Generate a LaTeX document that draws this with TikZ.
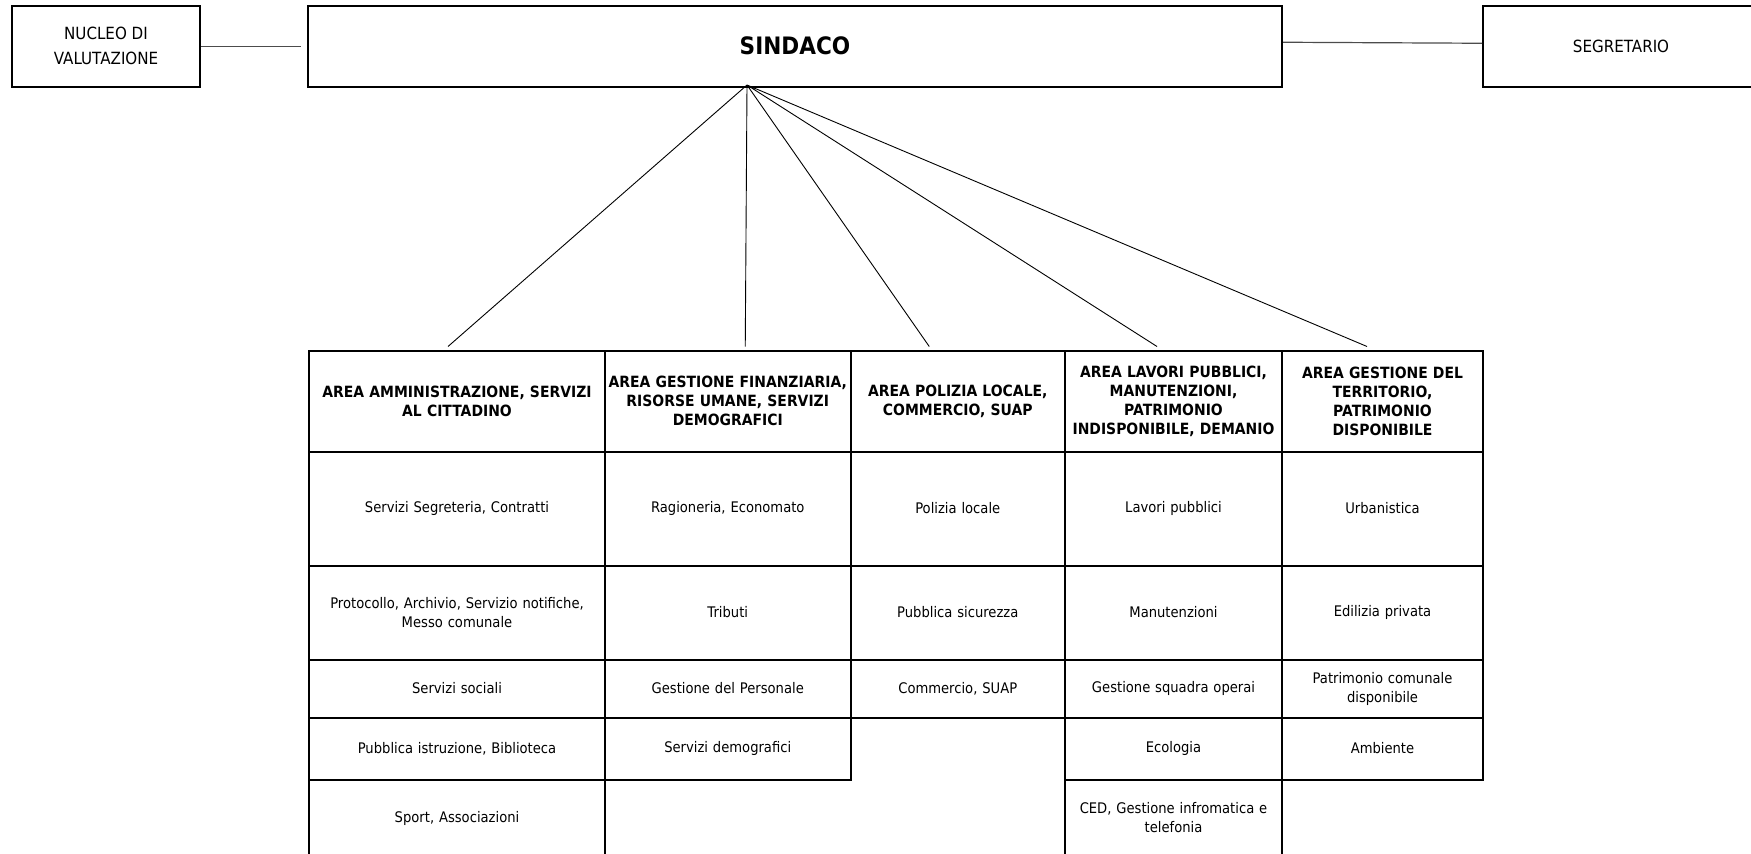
\documentclass[tikz,border=0pt]{standalone}
\usepackage{fontspec}
\setmainfont{DejaVu Sans}[FakeStretch=0.9]
\newcommand{\headfont}{\fontsize{15.5}{19}\selectfont\bfseries}
\newcommand{\cellfont}{\fontsize{14.6}{19}\selectfont}
\newcommand{\sidefont}{\fontsize{16.8}{25}\selectfont}
\newcommand{\chieffont}{\fontsize{24}{27}\selectfont\bfseries}
\newcommand{\heighthead}{101pt}
\tikzset{
    common/.style={anchor=north west, draw, rectangle, line width=2pt, inner sep=2pt, align=center},
    head/.style={common, font=\headfont, minimum height=\heighthead},
    cell/.style={common, font=\cellfont},
    box/.style={common, font=\sidefont, minimum height=81.5pt},
    colA/.style={minimum width=296pt, text width=290pt},
    colB/.style={minimum width=245.5pt, text width=240pt},
    colC/.style={minimum width=214.5pt, text width=209pt},
    colD/.style={minimum width=217pt, text width=212pt},
    colE/.style={minimum width=201pt, text width=196pt},
    side/.style={line width=1.2pt, black!70},
    fanline/.style={line width=0.9pt}
}
\begin{document}
\begin{tikzpicture}[x=1pt, y=-1pt]
    \useasboundingbox (0,0) rectangle (1751,854);

    % top row
    \node[box, minimum width=188pt] (nucleo) at (11,4.5) {NUCLEO DI\\VALUTAZIONE};
    \node[box, minimum width=974pt, font=\chieffont] (sindaco) at (307,4.5) {SINDACO};
    \node[box, minimum width=276pt] (segretario) at (1482,4.5) {SEGRETARIO};

    \draw[side] (nucleo.east) -- ([xshift=-6pt]sindaco.west);
    \draw[side] ([yshift=4pt]sindaco.east) -- ([yshift=3pt]segretario.west);

    % areas
    \path (308,349.5)
        node[head, colA] (A0) {AREA AMMINISTRAZIONE, SERVIZI\\AL CITTADINO}
        ++(0,101) node[cell, colA, minimum height=114pt] (A1) {Servizi Segreteria, Contratti}
        ++(0,114) node[cell, colA, minimum height=94pt] (A2) {Protocollo, Archivio, Servizio notifiche,\\Messo comunale}
        ++(0,94) node[cell, colA, minimum height=58pt] (A3) {Servizi sociali}
        ++(0,58) node[cell, colA, minimum height=62pt] (A4) {Pubblica istruzione, Biblioteca}
        ++(0,62) node[cell, colA, minimum height=77pt] (A5) {Sport, Associazioni};

    \path (604,349.5)
        node[head, colB] (B0) {AREA GESTIONE FINANZIARIA,\\RISORSE UMANE, SERVIZI\\DEMOGRAFICI}
        ++(0,101) node[cell, colB, minimum height=114pt] (B1) {Ragioneria, Economato}
        ++(0,114) node[cell, colB, minimum height=94pt] (B2) {Tributi}
        ++(0,94) node[cell, colB, minimum height=58pt] (B3) {Gestione del Personale}
        ++(0,58) node[cell, colB, minimum height=62pt] (B4) {Servizi demografici};

    \path (849.5,349.5)
        node[head, colC] (C0) {AREA POLIZIA LOCALE,\\COMMERCIO, SUAP}
        ++(0,101) node[cell, colC, minimum height=114pt] (C1) {Polizia locale}
        ++(0,114) node[cell, colC, minimum height=94pt] (C2) {Pubblica sicurezza}
        ++(0,94) node[cell, colC, minimum height=58pt] (C3) {Commercio, SUAP};

    \path (1064,349.5)
        node[head, colD] (D0) {AREA LAVORI PUBBLICI,\\MANUTENZIONI,\\PATRIMONIO\\INDISPONIBILE, DEMANIO}
        ++(0,101) node[cell, colD, minimum height=114pt] (D1) {Lavori pubblici}
        ++(0,114) node[cell, colD, minimum height=94pt] (D2) {Manutenzioni}
        ++(0,94) node[cell, colD, minimum height=58pt] (D3) {Gestione squadra operai}
        ++(0,58) node[cell, colD, minimum height=62pt] (D4) {Ecologia}
        ++(0,62) node[cell, colD, minimum height=77pt] (D5) {CED, Gestione infromatica e\\telefonia};

    \path (1281,349.5)
        node[head, colE] (E0) {AREA GESTIONE DEL\\TERRITORIO,\\PATRIMONIO\\DISPONIBILE}
        ++(0,101) node[cell, colE, minimum height=114pt] (E1) {Urbanistica}
        ++(0,114) node[cell, colE, minimum height=94pt] (E2) {Edilizia privata}
        ++(0,94) node[cell, colE, minimum height=58pt] (E3) {Patrimonio comunale\\disponibile}
        ++(0,58) node[cell, colE, minimum height=62pt] (E4) {Ambiente};

    % links from the mayor
    \coordinate (fan) at ([xshift=-48pt, yshift=3pt]sindaco.south);
    \draw[fanline]
        (fan) -- ([xshift=-9pt, yshift=3pt]A0.north)
        (fan) -- ([xshift=17.5pt, yshift=3pt]B0.north)
        (fan) -- ([xshift=-28.5pt, yshift=3pt]C0.north)
        (fan) -- ([xshift=-16.5pt, yshift=3pt]D0.north)
        (fan) -- ([xshift=-15.5pt, yshift=3pt]E0.north);
\end{tikzpicture}
\end{document}
